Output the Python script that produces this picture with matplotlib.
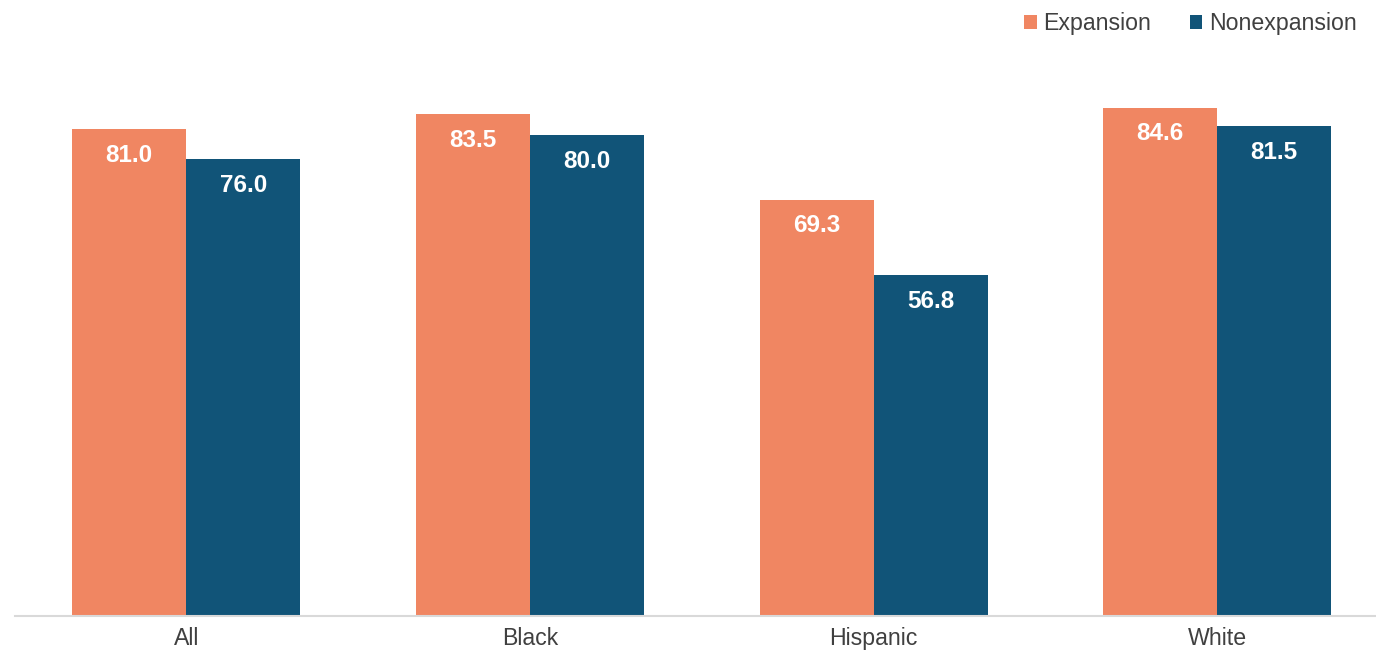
import matplotlib.pyplot as plt
import numpy as np

plt.rcParams['font.family'] = ['Liberation Sans', 'DejaVu Sans']

# Categories and series values
groups = ["All", "Black", "Hispanic", "White"]
expansion = [81.0, 83.5, 69.3, 84.6]
nonexpansion = [76.0, 80.0, 56.8, 81.5]

orange = "#F08662"
blue = "#115478"
text_gray = "#404040"

fig = plt.figure(figsize=(13.76, 6.51), dpi=100)
ax = fig.add_axes([14.5 / 1376, 35 / 651, (1376 - 14.5) / 1376, 601 / 651])

x = np.arange(len(groups))
w = 0.332
b1 = ax.bar(x - w / 2, expansion, w, color=orange, label="Expansion")
b2 = ax.bar(x + w / 2, nonexpansion, w, color=blue, label="Nonexpansion")

# value labels just inside the top of each bar
for bars, vals in ((b1, expansion), (b2, nonexpansion)):
    for bar, v in zip(bars, vals):
        ax.text(bar.get_x() + bar.get_width() / 2, v - 4.4, f"{v:.1f}",
                ha="center", va="center", color="white",
                fontsize=17.5, fontweight="bold")

ax.set_xlim(-0.5, 3.462)
ax.set_ylim(0, 100)
ax.set_xticks(x)
ax.set_xticklabels(groups, fontsize=16.7, color=text_gray)
ax.tick_params(axis="x", length=0, pad=8)
ax.set_yticks([])
for side in ("top", "right", "left"):
    ax.spines[side].set_visible(False)
ax.spines["bottom"].set_color("#D9D9D9")
ax.spines["bottom"].set_linewidth(1.5)

fig.legend(handles=[b1, b2], loc="upper right", bbox_to_anchor=(1378 / 1376, 1 + 9 / 651),
           ncol=2, frameon=False, fontsize=16.7, labelcolor=text_gray,
           handlelength=0.55, handleheight=0.55, handletextpad=0.3,
           columnspacing=1.65)

fig.savefig("out.png", dpi=100)
